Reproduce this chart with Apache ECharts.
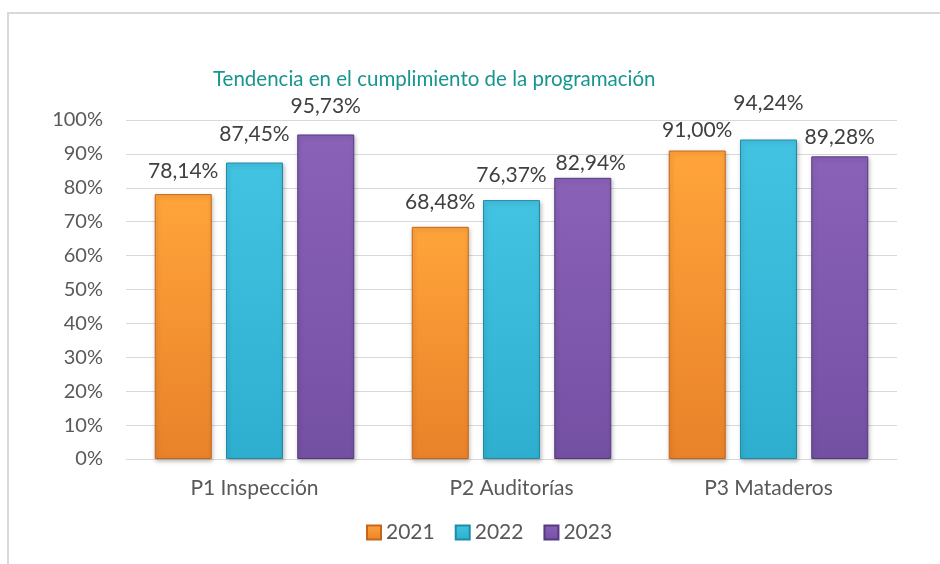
<!DOCTYPE html>
<html>
<head>
<meta charset="utf-8">
<script src="https://cdn.jsdelivr.net/npm/echarts@6/dist/echarts.min.js"></script>
<style>
  html, body { margin: 0; padding: 0; background: #fff; }
  #chart { width: 940px; height: 564px; }
</style>
</head>
<body>
<div id="chart"></div>
<script>
// Data
const categories = ['P1 Inspección', 'P2 Auditorías', 'P3 Mataderos'];
const years = ['2021', '2022', '2023'];
const values2021 = [78.14, 68.48, 91.00];
const values2022 = [87.45, 76.37, 94.24];
const values2023 = [95.73, 82.94, 89.28];
const yTicks = [0, 10, 20, 30, 40, 50, 60, 70, 80, 90, 100];

// label nudges (x, y) per series/category, as placed in the original
const labelOffsets = [
    [[0, -7], [0, -9], [0, -5]],
    [[0, -13], [0, -9], [0, -21]],
    [[0, -13], [8, 1], [0, -4]]
];

const FONT = 'Lato, "Open Sans", sans-serif';

// colours: [top, bottom, border]
const palette = [
    ['#FFA43A', '#E9822A', '#C7661A'],
    ['#43C3E2', '#2FAFCF', '#1E8BA8'],
    ['#8A62B8', '#7450A3', '#553A80']
];

function barStyle(c) {
    return {
        color: new echarts.graphic.LinearGradient(0, 0, 0, 1, [
            { offset: 0, color: c[0] },
            { offset: 1, color: c[1] }
        ]),
        borderColor: c[2],
        borderWidth: 1,
        shadowColor: 'rgba(0,0,0,0.25)',
        shadowBlur: 4,
        shadowOffsetX: 1,
        shadowOffsetY: 2
    };
}

function fmt(p) {
    return p.value.toFixed(2).replace('.', ',') + '%';
}

const seriesData = [values2021, values2022, values2023];

const chart = echarts.init(document.getElementById('chart'), null, { renderer: 'canvas' });

const option = {
    animation: false,
    backgroundColor: '#fff',
    graphic: [{
        type: 'rect',
        shape: { x: 8, y: 13, width: 1000, height: 600 },
        style: { fill: 'none', stroke: '#D9D9D9', lineWidth: 2 },
        silent: true
    }],
    title: {
        text: 'Tendencia en el cumplimiento de la programación',
        left: 208,
        top: 64,
        textStyle: { color: '#17958F', fontSize: 20.5, fontWeight: 'normal', fontFamily: FONT }
    },
    legend: {
        data: years,
        left: 361,
        top: 517,
        itemWidth: 14,
        itemHeight: 14,
        itemGap: 20,
        icon: 'rect',
        textStyle: { color: '#595959', fontSize: 21, fontFamily: FONT }
    },
    grid: { left: 126, right: 43, top: 120, bottom: 105 },
    xAxis: {
        type: 'category',
        data: categories,
        axisLine: { lineStyle: { color: '#D9D9D9', width: 1 } },
        axisTick: { show: false },
        axisLabel: { color: '#595959', fontSize: 21, fontFamily: FONT, margin: 19 }
    },
    yAxis: {
        type: 'value',
        min: yTicks[0],
        max: yTicks[yTicks.length - 1],
        interval: 10,
        axisLine: { show: false },
        axisTick: { show: false },
        splitLine: { lineStyle: { color: '#D9D9D9', width: 1 } },
        axisLabel: { color: '#595959', fontSize: 20, fontFamily: FONT, margin: 23, formatter: '{value}%' }
    },
    series: years.map((y, i) => ({
        name: y,
        type: 'bar',
        data: seriesData[i].map((v, j) => ({
            value: v,
            label: { offset: labelOffsets[i][j] }
        })),
        barWidth: 57,
        barGap: '25%',
        itemStyle: barStyle(palette[i]),
        label: {
            show: true,
            position: 'top',
            distance: 5,
            color: '#404040',
            fontSize: 21,
            fontFamily: FONT,
            formatter: fmt
        }
    }))
};

chart.setOption(option);
</script>
</body>
</html>
